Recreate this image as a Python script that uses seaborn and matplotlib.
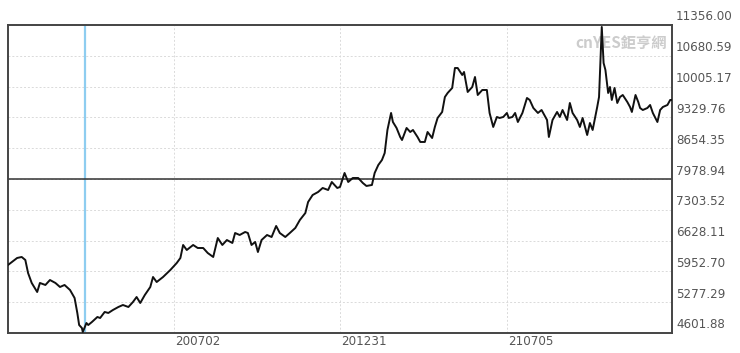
import numpy as np
import pandas as pd
import matplotlib
matplotlib.use("Agg")
import matplotlib.pyplot as plt
import matplotlib.transforms as mtransforms
import seaborn as sns

# day offsets from 2020-01-02 (calendar days)
days = [0, 10, 15, 19, 22, 26, 32, 35, 41, 46, 52, 57, 62, 68, 73, 76, 78, 81, 82, 86,
        88, 92, 98, 101, 106, 110, 115, 121, 126, 132, 137, 141, 145, 150, 156, 159, 163, 170, 178, 185,
        189, 192, 196, 203, 208, 214, 219, 225, 230, 235, 240, 246, 249, 254, 260, 263, 267, 271, 274, 278,
        284, 289, 294, 298, 304, 309, 315, 320, 326, 329, 334, 340, 345, 351, 355, 361, 364, 369, 373, 378,
        384, 389, 393, 399, 402, 406, 410, 413, 416, 420, 422, 426, 430, 432, 437, 441, 444, 449, 452, 457,
        460, 465, 468, 471, 476, 479, 482, 487, 490, 493, 498, 500, 504, 509, 512, 515, 520, 525, 528, 532,
        536, 539, 543, 547, 549, 553, 556, 559, 564, 569, 572, 576, 581, 585, 591, 593, 597, 602, 605, 608,
        613, 616, 619, 624, 627, 630, 635, 638, 641, 646, 648, 651, 653, 655, 658, 660, 662, 665, 668, 671,
        674, 679, 682, 684, 688, 691, 693, 696, 701, 704, 707, 712, 715, 718, 723, 726, 728]
index_values = [6093, 6247, 6269, 6203, 5918, 5699, 5501, 5699, 5655, 5764, 5699, 5611, 5655, 5545, 5370, 5041, 4777, 4712, 4624, 4821,
                4777, 4843, 4953, 4931, 5063, 5041, 5106, 5172, 5216, 5172, 5282, 5391, 5260, 5435, 5611, 5830, 5720, 5830, 5984, 6137,
                6247, 6532, 6422, 6532, 6466, 6466, 6356, 6269, 6685, 6532, 6641, 6576, 6795, 6751, 6817, 6795, 6532, 6598, 6378, 6641,
                6751, 6707, 6949, 6795, 6707, 6795, 6905, 7080, 7233, 7474, 7628, 7694, 7782, 7738, 7913, 7782, 7804, 8111, 7913, 8001,
                8001, 7892, 7826, 7848, 8111, 8286, 8396, 8549, 9054, 9427, 9229, 9098, 8900, 8834, 9098, 9010, 9054, 8900, 8791, 8791,
                9010, 8878, 9120, 9317, 9449, 9777, 9865, 9975, 10413, 10413, 10260, 10326, 9887, 9997, 10216, 9821, 9931, 9931, 9427, 9120,
                9339, 9317, 9339, 9427, 9317, 9339, 9427, 9229, 9427, 9756, 9712, 9536, 9427, 9492, 9273, 8900, 9273, 9449, 9339, 9492,
                9273, 9646, 9427, 9273, 9120, 9317, 8944, 9207, 9054, 9558, 9777, 11313, 10523, 10370, 9865, 9997, 9712, 9975, 9646, 9777,
                9821, 9668, 9558, 9449, 9821, 9668, 9536, 9492, 9536, 9602, 9427, 9229, 9492, 9558, 9602, 9712, 9712]

y_ticks = [4601.88, 5277.29, 5952.70, 6628.11, 7303.52, 7978.94, 8654.35, 9329.76, 10005.17, 10680.59, 11356.00]
y_tick_labels = ["4601.88", "5277.29", "5952.70", "6628.11", "7303.52", "7978.94",
                 "8654.35", "9329.76", "10005.17", "10680.59", "11356.00"]
x_ticks = [182, 364, 547]
x_tick_labels = ["200702", "201231", "210705"]
marker_day = 84
center_level = 7978.94
watermark = "cnYES鉅亨網"

df = pd.DataFrame({"day": days, "value": index_values})

sns.set_style("white")
plt.rcParams["font.family"] = ["DejaVu Sans"]

fig = plt.figure(figsize=(7.4, 3.53), dpi=100)
ax = fig.add_axes([8 / 740, 20 / 353, 664 / 740, 308 / 353])

ax.set_xlim(0, 728)
ax.set_ylim(y_ticks[0], y_ticks[-1])

ax.set_yticks(y_ticks)
ax.set_xticks(x_ticks)
ax.set_yticklabels([])
ax.set_xticklabels([])
ax.tick_params(length=0)
ax.grid(True, color="#dadada", linestyle=(0, (2, 2)), linewidth=0.7)
ax.set_axisbelow(True)

ax.axvline(marker_day, color="#8ecdf0", linewidth=1.6, zorder=2)
ax.axhline(center_level, color="#333333", linewidth=1.1, zorder=2)

sns.lineplot(data=df, x="day", y="value", ax=ax, color="#111111", linewidth=1.4, zorder=3)
ax.set_xlabel("")
ax.set_ylabel("")

for s in ax.spines.values():
    s.set_visible(True)
    s.set_color("#444444")
    s.set_linewidth(1.4)

# tick labels
ytrans = mtransforms.blended_transform_factory(ax.transAxes, ax.transData)
yoff = mtransforms.ScaledTranslation(4 / 100, 8 / 100, fig.dpi_scale_trans)
for v, lab in zip(y_ticks, y_tick_labels):
    ax.text(1.0, v, lab, transform=ytrans + yoff, ha="left", va="center",
            fontsize=8.6, color="#555555", clip_on=False)

xtrans = mtransforms.blended_transform_factory(ax.transData, ax.transAxes)
xoff = mtransforms.ScaledTranslation(1 / 100, -2 / 100, fig.dpi_scale_trans)
for v, lab in zip(x_ticks, x_tick_labels):
    ax.text(v, 0.0, lab, transform=xtrans + xoff, ha="left", va="top",
            fontsize=8.6, color="#555555", clip_on=False)

ax.text(0.993, 0.968, watermark, transform=ax.transAxes, ha="right", va="top",
        fontsize=11, fontweight="bold", color="#cccccc",
        family=["Noto Sans CJK TC", "DejaVu Sans"], zorder=1)

fig.savefig("out.png", dpi=100, facecolor="white")
